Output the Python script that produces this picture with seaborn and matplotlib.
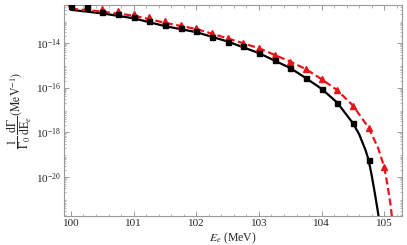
#!/usr/bin/env python3
"""
Differential rate 1/Gamma0 dGamma/dE_e near the endpoint
"""

import numpy as np
import pandas as pd
import matplotlib
matplotlib.use('Agg')
import matplotlib.pyplot as plt
import matplotlib.ticker as mticker
import seaborn as sns

# --- data (log10 of the rate) ---
marker_e = [100.0, 100.25, 100.5, 100.75, 101.0, 101.25, 101.5, 101.75,
            102.0, 102.25, 102.5, 102.75, 103.0, 103.25, 103.5, 103.75,
            104.0, 104.25, 104.5, 104.75]
black_marker_log = [-12.34, -12.40, -12.60, -12.70, -12.82, -13.00, -13.19, -13.34,
                    -13.49, -13.72, -13.94, -14.13, -14.46, -14.79, -15.13, -15.58,
                    -16.06, -16.68, -17.60, -19.25]

red_marker_e = [100.0, 100.25, 100.5, 100.75, 101.0, 101.25, 101.5, 101.75,
                102.0, 102.25, 102.5, 102.75, 103.0, 103.25, 103.5, 103.75,
                104.0, 104.25, 104.5, 104.75, 105.0]
red_marker_log = [-12.20, -12.33, -12.49, -12.59, -12.70, -12.86, -13.04, -13.19,
                  -13.34, -13.57, -13.79, -14.01, -14.24, -14.54, -14.84, -15.18,
                  -15.63, -16.12, -16.81, -17.80, -19.57]

black_line_e = [100.0, 100.5, 101.0, 101.5, 102.0, 102.5, 103.0, 103.5, 103.75,
                104.0, 104.25, 104.5, 104.6, 104.7, 104.75, 104.8, 104.85, 104.9, 104.92]
black_line_log = [-12.52, -12.68, -12.90, -13.25, -13.52, -13.94, -14.46, -15.13, -15.58,
                  -16.06, -16.68, -17.60, -18.10, -18.80, -19.25, -19.95, -20.75, -21.60, -22.0]

red_line_e = [100.0, 100.5, 101.0, 101.5, 102.0, 102.5, 103.0, 103.5, 103.75,
              104.0, 104.25, 104.5, 104.75, 104.9, 105.0, 105.05, 105.1, 105.13]
red_line_log = [-12.47, -12.60, -12.78, -13.10, -13.38, -13.80, -14.24, -14.84, -15.18,
                -15.63, -16.12, -16.81, -17.80, -18.70, -19.57, -20.35, -21.25, -22.0]

x_ticks = [100, 101, 102, 103, 104, 105]
y_ticks = [1e-14, 1e-16, 1e-18, 1e-20]

# --- style ---
sns.set_style('ticks')
plt.rcParams['font.family'] = ['Liberation Serif', 'DejaVu Serif']
plt.rcParams['mathtext.fontset'] = 'stix'

black_markers = pd.DataFrame({'E': marker_e, 'rate': np.power(10.0, black_marker_log)})
red_markers = pd.DataFrame({'E': red_marker_e, 'rate': np.power(10.0, red_marker_log)})
black_line = pd.DataFrame({'E': black_line_e, 'rate': np.power(10.0, black_line_log)})
red_line = pd.DataFrame({'E': red_line_e, 'rate': np.power(10.0, red_line_log)})

fig = plt.figure(figsize=(4.07, 2.45), dpi=100)
ax = fig.add_axes([0.157, 0.118, 0.830, 0.862])
ax.set_yscale('log')

# curves
sns.lineplot(data=black_line, x='E', y='rate', ax=ax, color='black', lw=1.6,
             sort=False, estimator=None)
sns.lineplot(data=red_line, x='E', y='rate', ax=ax, color='#e8141b', lw=1.6,
             dashes=False, sort=False, estimator=None)
ax.lines[-1].set_dashes([3.2, 1.6])

# points
ax.plot(red_markers['E'], red_markers['rate'], ls='none', marker='^', ms=4.6,
        color='#e8141b', mec='#e8141b', zorder=4)
ax.plot(black_markers['E'], black_markers['rate'], ls='none', marker='s', ms=3.6,
        color='black', mec='black', zorder=5)

ax.set_xlim(99.888, 105.278)
ax.set_ylim(10 ** -21.76, 10 ** -12.30)

ax.set_xticks(x_ticks)
ax.xaxis.set_minor_locator(mticker.MultipleLocator(0.2))
ax.set_yticks(y_ticks)
ax.yaxis.set_major_formatter(mticker.LogFormatterMathtext())
ax.yaxis.set_minor_locator(mticker.LogLocator(base=10, subs=np.arange(2, 10), numticks=100))
ax.yaxis.set_minor_formatter(mticker.NullFormatter())

for side in ['left', 'right', 'top', 'bottom']:
    ax.spines[side].set_color('#9a9a9a')
    ax.spines[side].set_linewidth(0.8)
ax.tick_params(which='both', direction='in', top=True, right=True,
               color='#9a9a9a', labelsize=8, pad=2)
ax.tick_params(which='major', length=3.5, width=0.7)
ax.tick_params(which='minor', length=1.8, width=0.5)
ax.tick_params(axis='y', which='minor', length=1.5)

ax.set_xlabel(r'$E_e$ (MeV)', fontsize=8.5, labelpad=2)
ax.set_ylabel(r'$\dfrac{1}{\Gamma_0}\,\dfrac{\mathrm{d}\Gamma}{\mathrm{d}\mathrm{E}_e}(\mathrm{MeV}^{-1})$',
              fontsize=8.5, labelpad=1)

fig.savefig('out.png', dpi=100)
